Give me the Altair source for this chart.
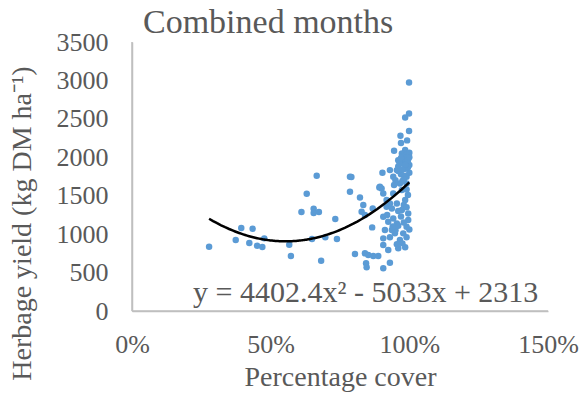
import altair as alt
import pandas as pd

cover = [0.278, 0.374, 0.394, 0.423, 0.435, 0.451, 0.470, 0.477, 0.567, 0.573,
         0.649, 0.666, 0.630, 0.611, 0.655, 0.655, 0.674, 0.682, 0.697, 0.733,
         0.739, 0.786, 0.786, 0.999, 0.999, 0.985, 0.999, 0.968, 0.992, 0.970,
         0.945, 0.985, 0.791, 0.822, 0.903, 0.892, 0.930, 0.834, 0.828, 0.840,
         0.868, 0.866, 0.900, 0.906, 0.918, 0.906, 0.912, 0.906, 0.906, 0.804,
         0.840, 0.852, 0.870, 0.888, 0.844, 0.846, 0.906, 0.930, 0.924, 0.960,
         0.985, 0.990, 0.996, 0.942, 0.894, 0.955, 0.973, 0.990, 0.966, 0.985,
         0.955, 0.978, 0.948, 0.966, 0.937, 0.924, 0.942, 0.973, 0.955, 0.937,
         0.918, 0.973, 0.990, 0.942, 0.978, 0.960, 0.990, 0.996, 0.960, 0.980,
         0.950, 1.000, 0.970, 0.990, 0.965, 0.985, 0.945, 0.975, 1.000, 0.995,
         0.930, 0.980, 0.960, 0.990, 0.970, 0.950, 0.990, 0.975, 0.955, 0.930,
         0.960, 1.000, 0.980, 0.920, 0.940, 0.975, 0.995, 0.985, 0.965, 1.000,
         0.990, 0.970, 0.980, 0.995, 0.960, 0.985, 1.000, 0.975]
herbage = [836, 923, 1079, 884, 1070, 850, 832, 945, 862, 715,
           936, 1760, 1526, 1287, 1330, 1274, 1287, 654, 958, 1196,
           936, 1746, 1551, 2974, 2571, 2519, 2341, 2280, 2220, 2185,
           2085, 2094, 1742, 1478, 1798, 1608, 1833, 1378, 1291, 1248,
           1335, 1088, 1595, 1530, 1356, 1226, 1053, 945, 858, 741,
           750, 728, 715, 715, 620, 568, 555, 628, 793, 815,
           828, 1096, 1270, 1530, 1616, 1833, 2050, 1963, 1660, 1443,
           1140, 1010, 1010, 923, 1053, 1161, 1205, 1313, 1400, 1335,
           1443, 1573, 1746, 1746, 1920, 1963, 1660, 1183, 1880, 1990,
           1700, 1900, 1780, 2030, 1950, 1850, 1640, 1690, 1800, 1510,
           1400, 1380, 1300, 1350, 1230, 1050, 960, 880, 870, 960,
           1110, 1060, 1150, 1250, 1100, 2010, 1870, 1760, 1920, 2060,
           1580, 1990, 1710, 1960, 1820, 1900, 2000, 1840]

x_ticks = [0, 0.5, 1.0, 1.5]
y_ticks = [0, 500, 1000, 1500, 2000, 2500, 3000, 3500]
equation = "y = 4402.4x\u00b2 - 5033x + 2313"
title_text = "Combined months"

df = pd.DataFrame({"cover": cover, "herbage": herbage})

FONT = "Liberation Serif"
GREY = "#595959"
AXIS_GREY = "#BFBFBF"
W, H = 416, 269

xscale = alt.Scale(domain=[0, 1.5], nice=False)
yscale = alt.Scale(domain=[0, 3500], nice=False)

x_axis = alt.Axis(values=x_ticks, format=".0%", title="Percentage cover",
                  labelPadding=20, titlePadding=6)
y_axis = alt.Axis(values=y_ticks, format="d", title="Herbage yield (kg DM ha\u207b\u00b9)",
                  labelPadding=24, titleAngle=-90, titleX=-102, titleY=181,
                  titleBaseline="alphabetic", titleAlign="center")

base = alt.Chart(df)

points = base.mark_circle(size=42, color="#5B9BD5", opacity=1).encode(
    x=alt.X("cover:Q", scale=xscale, axis=x_axis),
    y=alt.Y("herbage:Q", scale=yscale, axis=y_axis),
)

trend = base.transform_regression(
    "cover", "herbage", method="poly", order=2
).mark_line(color="black", strokeWidth=2.5).encode(
    x=alt.X("cover:Q", scale=xscale, axis=x_axis),
    y=alt.Y("herbage:Q", scale=yscale, axis=y_axis),
)

one = pd.DataFrame({"t": [equation], "title": [title_text]})

y_line = alt.Chart(one).mark_rule(color=AXIS_GREY, strokeWidth=1.5, opacity=1).encode(
    x=alt.X(datum=0, scale=xscale, axis=x_axis))
x_line = alt.Chart(one).mark_rule(color=AXIS_GREY, strokeWidth=1.5, opacity=1).encode(
    y=alt.Y(datum=0, scale=yscale, axis=y_axis))

eq = alt.Chart(one).mark_text(
    font=FONT, fontSize=30, color=GREY, align="left", baseline="alphabetic"
).encode(text="t:N", x=alt.value(61), y=alt.value(260))

ttl = alt.Chart(one).mark_text(
    font=FONT, fontSize=34, color=GREY, align="left", baseline="alphabetic"
).encode(text="title:N", x=alt.value(11), y=alt.value(-9))

chart = (points + trend + y_line + x_line + eq + ttl).properties(
    width=W, height=H,
    autosize=alt.AutoSizeParams(type="none"),
    padding={"left": 132, "top": 42, "right": 35, "bottom": 94},
).configure_view(stroke=None).configure_axis(
    grid=False, ticks=False, domain=True, domainColor=AXIS_GREY, domainWidth=1.5,
    labelFlush=False, labelOverlap=False, labelBound=False,
    labelFont=FONT, labelFontSize=26, labelColor=GREY,
    titleFont=FONT, titleFontSize=28, titleColor=GREY, titleFontWeight="normal",
)

chart.save("out.html", embed_options={"renderer": "svg", "actions": False})
